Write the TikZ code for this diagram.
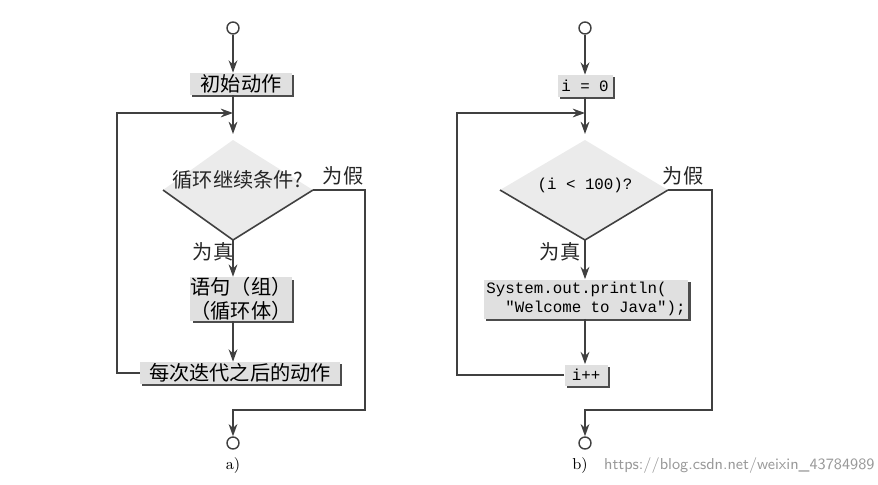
\documentclass[tikz,border=0pt]{standalone}
\usepackage{fontspec}
\newfontfamily\cjk{Noto Sans CJK SC}
\setmonofont{Liberation Mono}
\usetikzlibrary{calc}
\usetikzlibrary{arrows.meta, positioning, shadows}

\begin{document}
\begin{tikzpicture}[
    x=0.02cm, y=-0.02cm,
    line/.style={draw=black!75, line width=0.9pt},
    arrow/.style={line, -{Stealth[length=7pt, width=5pt]}},
    term/.style={circle, draw=black!75, line width=0.8pt, fill=white,
      minimum size=0.24cm, inner sep=0pt},
    box/.style={
      rectangle,
      fill=black!12,
      draw=none,
      align=center,
      inner sep=0pt,
      drop shadow={shadow xshift=1.4pt, shadow yshift=-1.4pt,
        fill=black!70, opacity=1},
      font=\cjk\fontsize{11.5}{14}\selectfont
    },
    cond/.style={fill=black!8},
    lbl/.style={font=\cjk\fontsize{11.5}{14}\selectfont, text=black!85}
  ]
  \useasboundingbox (0,0) rectangle (878,484);

  % ---------------- a) ----------------
  \node[term] (startA) at (233,28) {};
  \node[box, minimum width=2.04cm, minimum height=0.44cm] (init) at (241,84) {初始动作};
  \coordinate (joinA) at (233,113);
  \coordinate (dtA) at (233,140);
  \coordinate (dlA) at (163,190);
  \coordinate (drA) at (313,190);
  \coordinate (dbA) at (233,240);
  \fill[cond] (dtA) -- (drA) -- (dbA) -- (dlA) -- cycle;
  \draw[line] (dlA) -- (dbA) -- (drA);
  \node[lbl] (testA) at (238,180) {循环继续条件?};
  \node[box, minimum width=1.94cm, minimum height=0.84cm] (body) at (241,299)
    {语句（组）\\（循环体）};
  \node[box, minimum width=4cm, minimum height=0.44cm] (step) at (240,373)
    {每次迭代之后的动作};
  \node[term] (endA) at (233,443) {};
  \coordinate (loopA) at (117,113);
  \coordinate (falseA) at (365,190);
  \coordinate (exitA) at (233,410);

  \draw[arrow] (startA) -- (init.north -| startA);
  \draw[arrow] (init.south -| joinA) -- ($(dtA)+(0,-6)$);
  \draw[arrow] (step.west) -| (loopA) -- (joinA);
  \draw[arrow] (dbA) -- (body.north -| dbA);
  \draw[arrow] (body.south -| dbA) -- (step.north -| dbA);
  \draw[arrow] (drA) -- (falseA) |- (exitA) -- (endA);
  \node[lbl] at (343,176) {为假};
  \node[lbl] at (213,252) {为真};
  \node[font=\small] at (233,466) {a)};

  % ---------------- b) ----------------
  \node[term] (startB) at (585,28) {};
  \node[box, minimum width=1.1cm, minimum height=0.44cm, font=\ttfamily\small]
    (initB) at (585,86) {i = 0};
  \coordinate (joinB) at (585,113);
  \coordinate (dtB) at (585,140);
  \coordinate (dlB) at (500,190);
  \coordinate (drB) at (668,190);
  \coordinate (dbB) at (585,240);
  \fill[cond] (dtB) -- (drB) -- (dbB) -- (dlB) -- cycle;
  \draw[line] (dlB) -- (dbB) -- (drB);
  \node[font=\ttfamily\small] (testB) at (585,185) {(i < 100)?};
  \node[box, minimum width=4.1cm, minimum height=0.78cm, font=\ttfamily\small,
    align=left] (print) at (586,299)
    {System.out.println(\\\ \ "Welcome to Java");};
  \node[box, minimum width=0.86cm, minimum height=0.42cm, font=\ttfamily\small]
    (inc) at (586,375) {i++};
  \node[term] (endB) at (585,443) {};
  \coordinate (loopB) at (457,113);
  \coordinate (falseB) at (712,190);
  \coordinate (exitB) at (585,410);

  \draw[arrow] (startB) -- (initB);
  \draw[arrow] (initB.south -| joinB) -- ($(dtB)+(0,-6)$);
  \draw[arrow] (inc.west) -| (loopB) -- (joinB);
  \draw[arrow] (dbB) -- (print.north -| dbB);
  \draw[arrow] (print.south -| dbB) -- (inc.north -| dbB);
  \draw[arrow] (drB) -- (falseB) |- (exitB) -- (endB);
  \node[lbl] at (683,176) {为假};
  \node[lbl] at (560,252) {为真};
  \node[font=\small] at (580,466) {b)};

  \node[font=\sffamily\small, text=black!40, anchor=west] at (598,466)
    {https://blog.csdn.net/weixin\_43784989};
\end{tikzpicture}
\end{document}
